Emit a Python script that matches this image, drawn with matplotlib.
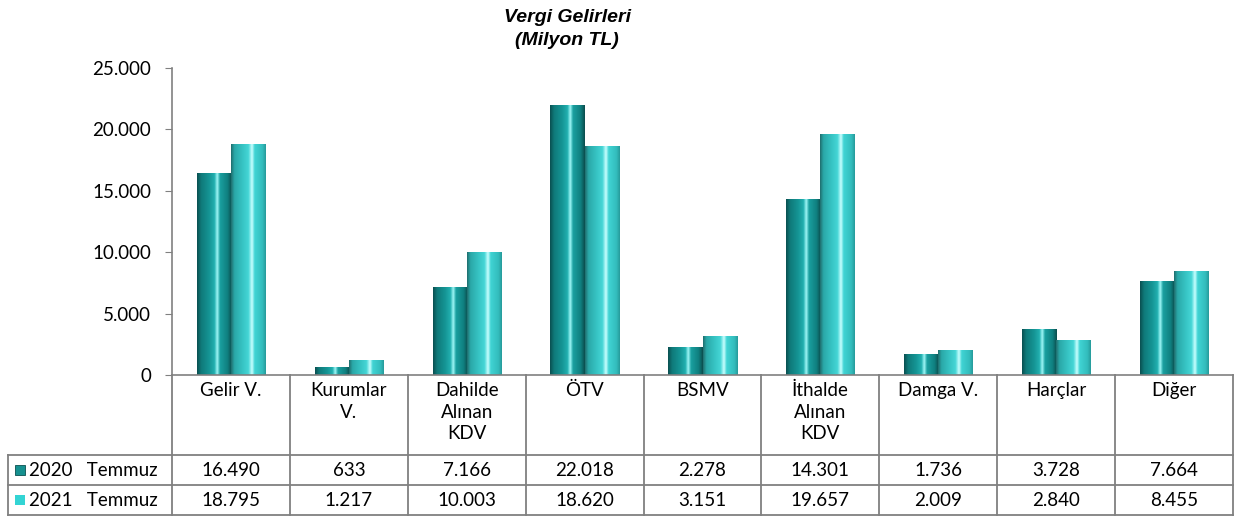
import numpy as np
import matplotlib
matplotlib.use("Agg")
import matplotlib.pyplot as plt
from matplotlib.colors import LinearSegmentedColormap
from matplotlib.patches import Rectangle
from matplotlib.lines import Line2D

# -------------------------------------------------
# Data
# -------------------------------------------------
categories = ["Gelir V.", "Kurumlar\nV.", "Dahilde\nAlınan\nKDV", "ÖTV", "BSMV",
              "İthalde\nAlınan\nKDV", "Damga V.", "Harçlar", "Diğer"]
series_names = ["2020   Temmuz", "2021   Temmuz"]
values_2020 = [16490, 633, 7166, 22018, 2278, 14301, 1736, 3728, 7664]
values_2021 = [18795, 1217, 10003, 18620, 3151, 19657, 2009, 2840, 8455]
yticks = [0, 5000, 10000, 15000, 20000, 25000]


def fmt(v):
    return f"{v:,}".replace(",", ".")


plt.rcParams["font.family"] = ["Lato", "DejaVu Sans"]
FS = 13.5
W, H = 1251, 517
fig = plt.figure(figsize=(W / 100, H / 100), dpi=100)

# plot area in pixels
x0, x1 = 172, 1233
y_top, y_zero = 68, 375
ax = fig.add_axes([x0 / W, (H - y_zero) / H, (x1 - x0) / W, (y_zero - y_top) / H])

# cylinder-like shading
cmap_2020 = LinearSegmentedColormap.from_list("c2020", [
    (0.0, "#0a4f50"), (0.12, "#0f7a7a"), (0.35, "#159595"), (0.5, "#22b0b0"),
    (0.58, "#9ff7f7"), (0.66, "#1aa0a0"), (0.88, "#0f7f7f"), (1.0, "#0b4c4c")])
cmap_2021 = LinearSegmentedColormap.from_list("c2021", [
    (0.0, "#1f6d6d"), (0.1, "#2aa8a8"), (0.35, "#38c6c6"), (0.5, "#45d6d6"),
    (0.6, "#c8ffff"), (0.68, "#40d4d4"), (0.9, "#33bdbd"), (1.0, "#269a9a")])

grad = np.linspace(0, 1, 256).reshape(1, -1)
bw = 0.29
x = np.arange(len(categories))
for vals, cmap, off in [(values_2020, cmap_2020, -bw / 2), (values_2021, cmap_2021, bw / 2)]:
    bars = ax.bar(x + off, vals, width=bw, color="none", edgecolor="none")
    for b in bars:
        bx, by = b.get_x(), b.get_y()
        im = ax.imshow(grad, cmap=cmap, aspect="auto",
                       extent=[bx, bx + b.get_width(), by, by + b.get_height()],
                       zorder=2)
        im.set_clip_path(b)
ax.set_xlim(-0.5, len(categories) - 0.5)
ax.set_ylim(0, 25000)

# axes styling
for s in ["top", "right"]:
    ax.spines[s].set_visible(False)
for s in ["left", "bottom"]:
    ax.spines[s].set_color("#808080")
    ax.spines[s].set_linewidth(1.2)
ax.set_xticks([])
ax.set_yticks(yticks)
ax.set_yticklabels([fmt(v) for v in yticks], fontsize=FS)
ax.tick_params(axis="y", color="#808080", length=5, pad=10)

# title
fig.text(567 / W, 1 - 29 / H, "Vergi Gelirleri\n(Milyon TL)",
         ha="center", va="center", fontsize=14, fontweight="bold", style="italic",
         family="Liberation Sans", linespacing=1.4)

# -------------------------------------------------
# Data table under the chart
# -------------------------------------------------
line_kw = dict(color="#808080", linewidth=1.3)


def fy(py):
    return (H - py) / H


def fx(px):
    return px / W


cat_w = (x1 - x0) / len(categories)
row_y = [375, 455, 485, 515]
for i in range(len(categories) + 1):
    px = x0 + i * cat_w
    fig.add_artist(Line2D([fx(px), fx(px)], [fy(375), fy(515)], **line_kw))
fig.add_artist(Line2D([fx(8), fx(8)], [fy(455), fy(515)], **line_kw))
for py in row_y[1:]:
    fig.add_artist(Line2D([fx(8), fx(x1)], [fy(py), fy(py)], **line_kw))

for i, name in enumerate(categories):
    cx = x0 + (i + 0.5) * cat_w
    fig.text(fx(cx), fy(382), name, ha="center", va="top", fontsize=FS,
             linespacing=1.33)
    fig.text(fx(cx), fy(470), fmt(values_2020[i]), ha="center", va="center", fontsize=FS)
    fig.text(fx(cx), fy(500), fmt(values_2021[i]), ha="center", va="center", fontsize=FS)

legend_colors = ["#15908f", "#33d4d4"]
for j, (nm, col) in enumerate(zip(series_names, legend_colors)):
    cy = 470 + 30 * j
    fig.add_artist(Rectangle((fx(15), fy(cy + 5)), 10 / W, 10 / H, facecolor=col,
                             edgecolor="#0a5050" if j == 0 else "none", linewidth=0.6,
                             transform=fig.transFigure))
    fig.text(fx(29), fy(cy), nm, ha="left", va="center", fontsize=FS)

fig.savefig("out.png", dpi=100)
